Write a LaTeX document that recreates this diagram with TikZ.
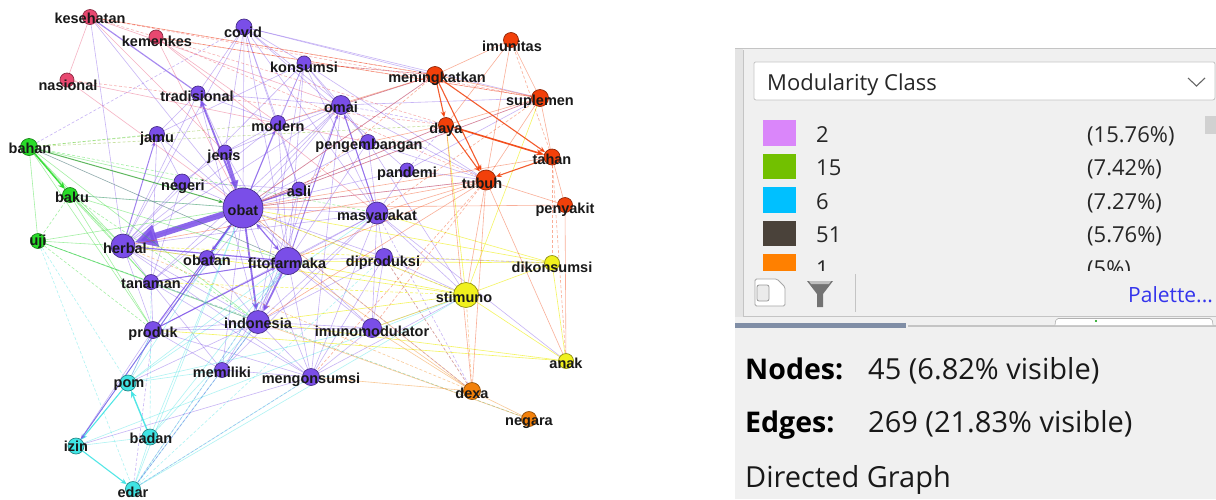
\documentclass[tikz,border=0pt]{standalone}
\usepackage{fontspec}
\setmainfont{Liberation Sans}
\newfontfamily\uifont{Open Sans}
\usetikzlibrary{arrows.meta}
\pgfdeclarelayer{bg}
\pgfdeclarelayer{edges}
\pgfsetlayers{bg,edges,main}

\definecolor{cpur}{RGB}{122,78,232}
\definecolor{cpink}{RGB}{232,72,112}
\definecolor{cgreen}{RGB}{40,220,40}
\definecolor{ccyan}{RGB}{64,228,228}
\definecolor{cyel}{RGB}{240,240,30}
\definecolor{corange}{RGB}{242,128,10}
\definecolor{cred}{RGB}{242,64,10}
\definecolor{panelbg}{RGB}{240,240,240}
\definecolor{stripbg}{RGB}{228,228,228}
\definecolor{bordc}{RGB}{196,196,196}
\definecolor{leg1}{RGB}{218,134,250}
\definecolor{leg2}{RGB}{114,192,0}
\definecolor{leg3}{RGB}{0,192,255}
\definecolor{leg4}{RGB}{74,66,58}
\definecolor{leg5}{RGB}{255,128,0}
\definecolor{thumb}{RGB}{128,142,166}
\definecolor{linkblue}{RGB}{52,52,236}

\tikzset{
  vtx/.style={circle, inner sep=0pt, minimum size=#1, line width=0.7pt},
  lbl/.style={font=\bfseries\fontsize{14.5}{15}\selectfont, text=black!90, inner sep=0pt},
  ed/.style={line width=0.6pt, opacity=0.42},
  edd/.style={ed, dash pattern=on 3pt off 2pt},
  tip/.style={-{Stealth[length=5pt,width=4pt]}},
  ui/.style={font=\uifont\fontsize{22}{24}\selectfont, inner sep=0pt, text=black!85},
  uib/.style={font=\uifont\fontsize{29}{31}\selectfont, inner sep=0pt, text=black!90},
  uibb/.style={font=\uifont\bfseries\fontsize{28.5}{31}\selectfont, inner sep=0pt, text=black},
}

\begin{document}
\begin{tikzpicture}[x=1pt,y=-1pt]
\useasboundingbox (0,0) rectangle (1216,499);
\begin{pgfonlayer}{bg}
  \fill[white] (0,0) rectangle (1216,499);
\end{pgfonlayer}

% ---------- vertices ----------
\foreach \n/\x/\y/\s/\c in {
  kesehatan/90/17/15/cpink, kemenkes/156/37/14/cpink, nasional/67/80/14/cpink,
  covid/244/27/16/cpur, konsumsi/304/63/14/cpur, tradisional/198/93/14/cpur,
  omai/341/105/19/cpur, modern/278/123/15/cpur, jamu/157/134/15/cpur,
  pengembangan/368/142/15/cpur, jenis/225/152/14/cpur, pandemi/407/170/14/cpur,
  negeri/182/182/16/cpur, asli/299/189/14/cpur, obat/243/208/40/cpur,
  masyarakat/377/213/22/cpur, herbal/123/246/24/cpur, obatan/207/258/15/cpur,
  fitofarmaka/288/261/27/cpur, diproduksi/384/257/17/cpur, tanaman/151/282/15/cpur,
  produk/153/330/17/cpur, indonesia/258/322/23/cpur, imunomodulator/372/328/19/cpur,
  memiliki/222/370/15/cpur, mengonsumsi/311/377/17/cpur,
  bahan/29/147/17/cgreen, baku/70/195/15/cgreen, uji/38/241/15/cgreen,
  stimuno/466/295/25/cyel, dikonsumsi/552/263/15/cyel, anak/566/361/15/cyel,
  pom/128/383/16/ccyan, badan/150/437/16/ccyan, izin/76/446/16/ccyan, edar/133/489/15/ccyan,
  dexa/472/391/17/corange, negara/529/419/15/corange,
  imunitas/511/40/15/cred, meningkatkan/435/75/17/cred, suplemen/540/98/17/cred,
  daya/446/125/15/cred, tahan/552/157/16/cred, tubuh/486/180/20/cred, penyakit/565/205/15/cred}
  \node[vtx=\s pt, fill=\c, draw=\c!60!black] (\n) at (\x,\y) {};

% ---------- labels ----------
\foreach \n/\x/\y in {
  kesehatan/90/18, kemenkes/157/41, nasional/68/85, covid/243/32, konsumsi/304/67,
  tradisional/197/96, omai/341/107, modern/278/126, jamu/157/139, pengembangan/369/146,
  jenis/224/157, pandemi/407/174, negeri/183/187, asli/299/191, obat/243/210,
  masyarakat/377/217, herbal/125/248, obatan/207/260, fitofarmaka/287/263,
  diproduksi/383/263, tanaman/151/284, produk/153/334, indonesia/258/323,
  imunomodulator/372/331, memiliki/222/372, mengonsumsi/311/380,
  bahan/30/148, baku/72/197, uji/38/242, stimuno/464/297, dikonsumsi/552/267,
  anak/566/363, pom/129/385, badan/151/438, izin/76/446, edar/133/492,
  dexa/472/393, negara/529/423, imunitas/512/46, meningkatkan/437/79,
  suplemen/540/102, daya/446/130, tahan/552/159, tubuh/482/183, penyakit/565/210}
  \node[lbl] (lab-\n) at (\x,\y) {\n};

% ---------- connectors ----------
\begin{pgfonlayer}{edges}
% purple cluster
\foreach \a/\b in {
  obat/asli, obat/omai, obat/konsumsi, obat/covid, obat/jamu, obat/negeri,
  obat/tanaman, obat/produk, obat/masyarakat, obat/pengembangan, obat/diproduksi,
  obat/mengonsumsi, obat/memiliki, obat/imunomodulator, obat/pandemi, obat/kesehatan,
  obat/baku, obat/izin, obat/tubuh, obat/meningkatkan, obat/suplemen, obat/daya,
  herbal/tanaman, herbal/produk, herbal/indonesia, herbal/omai, herbal/tradisional,
  herbal/modern, herbal/obatan, herbal/masyarakat, herbal/mengonsumsi, herbal/kesehatan,
  herbal/negeri, herbal/asli,
  fitofarmaka/modern, fitofarmaka/asli, fitofarmaka/tanaman, fitofarmaka/produk,
  fitofarmaka/masyarakat, fitofarmaka/pengembangan, fitofarmaka/imunomodulator,
  fitofarmaka/mengonsumsi, fitofarmaka/memiliki, fitofarmaka/diproduksi,
  fitofarmaka/konsumsi, fitofarmaka/covid, fitofarmaka/jenis, fitofarmaka/obatan,
  indonesia/produk, indonesia/tanaman, indonesia/memiliki, indonesia/mengonsumsi,
  indonesia/masyarakat, indonesia/omai, indonesia/konsumsi, indonesia/imunomodulator,
  indonesia/diproduksi, indonesia/pom, indonesia/obatan, indonesia/asli,
  omai/modern, omai/masyarakat, omai/mengonsumsi, omai/pengembangan, omai/jenis,
  omai/covid, omai/konsumsi, omai/produk, omai/tanaman, omai/tubuh, omai/suplemen,
  omai/meningkatkan,
  masyarakat/mengonsumsi, masyarakat/diproduksi, masyarakat/imunomodulator,
  masyarakat/pengembangan, masyarakat/konsumsi, masyarakat/memiliki, masyarakat/produk,
  masyarakat/stimuno, masyarakat/covid, masyarakat/anak,
  covid/konsumsi, covid/modern, covid/tradisional, covid/pandemi, covid/meningkatkan,
  covid/herbal, covid/jenis, covid/asli, covid/suplemen,
  konsumsi/modern, konsumsi/herbal, konsumsi/pengembangan, konsumsi/tubuh, konsumsi/jamu,
  tradisional/jenis, tradisional/jamu, tradisional/modern, tradisional/omai,
  tradisional/indonesia,
  mengonsumsi/produk, mengonsumsi/memiliki, mengonsumsi/stimuno, mengonsumsi/tanaman,
  mengonsumsi/imunomodulator, mengonsumsi/diproduksi, mengonsumsi/izin,
  memiliki/produk, memiliki/tanaman,
  imunomodulator/stimuno, imunomodulator/diproduksi, imunomodulator/produk,
  diproduksi/dikonsumsi, diproduksi/stimuno,
  pandemi/tubuh, pandemi/suplemen, pandemi/masyarakat,
  tanaman/produk, tanaman/jamu, tanaman/negeri, produk/pom, produk/izin,
  pengembangan/tubuh, pengembangan/stimuno,
  negeri/jenis, negeri/asli, modern/asli, jamu/negeri, jenis/modern}
  \draw[ed, draw=cpur] (\a) -- (\b);
\foreach \a/\b in {
  obat/dexa, diproduksi/dexa, masyarakat/dexa, memiliki/edar, indonesia/edar,
  fitofarmaka/edar, omai/daya, pandemi/daya, bahan/covid, obat/stimuno,
  konsumsi/meningkatkan, produk/edar, mengonsumsi/edar}
  \draw[edd, draw=cpur] (\a) -- (\b);
% emphasised purple connectors
\foreach \a/\b in {
  obat/modern, herbal/jamu, fitofarmaka/omai, produk/fitofarmaka, obat/asli,
  tanaman/fitofarmaka, produk/obat, masyarakat/omai}
  \draw[ed, draw=cpur, opacity=0.7, line width=1pt, tip] (\a) -- (\b);
\draw[draw=cpur, opacity=0.85, line width=6pt, -{Triangle[length=22pt,width=22pt]}] (obat) -- (herbal);
\draw[draw=cpur, opacity=0.8, line width=3pt, -{Triangle[length=8pt,width=8pt]}] (jenis) -- (obat);
\draw[draw=cpur, opacity=0.8, line width=1.8pt, -{Stealth[length=8pt,width=7pt]}] (obat) -- (tradisional);
\draw[draw=cpur, opacity=0.8, line width=1.8pt, -{Stealth[length=8pt,width=7pt]}] (obat) -- (indonesia);
\draw[draw=cpur, opacity=0.8, line width=1.8pt, -{Stealth[length=8pt,width=7pt]}] (fitofarmaka) -- (indonesia);
\draw[draw=cpur, opacity=0.8, line width=1.2pt, {Stealth[length=6pt,width=5pt]}-{Stealth[length=6pt,width=5pt]}] (obat) -- (fitofarmaka);
\draw[draw=cpur, opacity=0.8, line width=1.2pt, -{Stealth[length=6pt,width=5pt]}] (obat) -- (obatan);
\draw[draw=cpur, opacity=0.8, line width=1.2pt, -{Stealth[length=6pt,width=5pt]}] (fitofarmaka) -- (herbal);
\draw[draw=cpur, opacity=0.65, line width=1.2pt] (kesehatan) -- (tradisional);

% pink cluster
\foreach \a/\b in {
  kesehatan/nasional, kesehatan/jenis, kemenkes/obat, kemenkes/modern,
  kemenkes/masyarakat, nasional/obat, nasional/pengembangan, kesehatan/omai}
  \draw[ed, draw=cpink] (\a) -- (\b);
\foreach \a/\b in {
  kesehatan/meningkatkan, kesehatan/suplemen, kemenkes/suplemen, kemenkes/tubuh,
  nasional/daya, kesehatan/tahan}
  \draw[edd, draw=cpink!60!cred] (\a) -- (\b);

% green cluster
\foreach \a/\b in {
  bahan/herbal, bahan/uji, bahan/tanaman, bahan/produk, bahan/indonesia, bahan/negeri,
  baku/herbal, baku/produk, baku/obat, baku/tanaman, baku/fitofarmaka,
  uji/herbal, uji/obat, uji/tanaman, uji/indonesia}
  \draw[ed, draw=cgreen] (\a) -- (\b);
\foreach \a/\b in {baku/uji, bahan/masyarakat, baku/indonesia, uji/produk, bahan/jamu}
  \draw[edd, draw=cgreen] (\a) -- (\b);
\draw[ed, draw=cgreen!45!cpur!80!black, opacity=0.6] (bahan) -- (fitofarmaka);
\draw[ed, draw=cgreen!70!black, opacity=0.7, line width=1pt, tip] (bahan) -- (obat);
\draw[draw=cgreen, opacity=0.9, line width=1.4pt, -{Stealth[length=7pt,width=6pt]}] (bahan) -- (baku);
\draw[edd, draw=cgreen!50!ccyan!80!black] (uji) -- (negara);
\draw[edd, draw=cgreen!60!corange] (bahan) -- (daya);
\draw[edd, draw=cgreen!60!corange] (bahan) -- (modern);

% cyan cluster
\foreach \a/\b in {
  badan/izin, badan/edar, pom/produk, pom/obat, pom/fitofarmaka, badan/obat,
  badan/indonesia, badan/fitofarmaka, izin/obat, edar/obat, edar/indonesia,
  edar/mengonsumsi, edar/stimuno, edar/fitofarmaka, pom/memiliki,
  pom/imunomodulator, izin/stimuno, pom/masyarakat}
  \draw[ed, draw=ccyan] (\a) -- (\b);
\foreach \a/\b in {uji/edar, uji/pom, edar/diproduksi, badan/tanaman}
  \draw[edd, draw=ccyan] (\a) -- (\b);
\draw[draw=ccyan, opacity=0.9, line width=1.4pt, -{Stealth[length=7pt,width=6pt]}] (badan) -- (pom);
\draw[draw=ccyan, opacity=0.9, line width=1.1pt, -{Stealth[length=6pt,width=5pt]}] (pom) -- (izin);
\draw[draw=ccyan, opacity=0.9, line width=1.1pt, -{Stealth[length=6pt,width=5pt]}] (izin) -- (edar);
\draw[ed, draw=cpur, opacity=0.7, line width=0.9pt, tip] (obat) -- (izin);

% yellow cluster
\foreach \a/\b in {
  stimuno/dikonsumsi, stimuno/anak, stimuno/fitofarmaka, stimuno/indonesia,
  stimuno/herbal, stimuno/obat, stimuno/imunomodulator, stimuno/daya,
  stimuno/suplemen, dikonsumsi/anak, dikonsumsi/fitofarmaka, dikonsumsi/obat,
  dikonsumsi/masyarakat, anak/produk, anak/indonesia}
  \draw[ed, draw=cyel, opacity=0.7] (\a) -- (\b);
\foreach \a/\b in {stimuno/tanaman, dikonsumsi/herbal}
  \draw[edd, draw=cyel, opacity=0.7] (\a) -- (\b);

% orange cluster
\foreach \a/\b in {
  dexa/negara, dexa/imunomodulator, dexa/fitofarmaka, dexa/obat, dexa/mengonsumsi,
  negara/indonesia}
  \draw[ed, draw=corange] (\a) -- (\b);
\foreach \a/\b in {dexa/stimuno, dexa/diproduksi, dexa/herbal}
  \draw[edd, draw=corange] (\a) -- (\b);

% red cluster
\foreach \a/\b in {
  meningkatkan/suplemen, meningkatkan/imunitas, meningkatkan/omai, meningkatkan/obat,
  meningkatkan/konsumsi, meningkatkan/kesehatan, imunitas/tubuh, imunitas/suplemen,
  suplemen/tahan, suplemen/tubuh, suplemen/daya, tahan/penyakit, tubuh/penyakit,
  tubuh/stimuno, tubuh/anak, tubuh/dexa, tubuh/obat, tubuh/masyarakat, penyakit/obat,
  imunitas/daya, suplemen/obat, tahan/obat, daya/obat, daya/dexa, tubuh/herbal,
  tubuh/fitofarmaka, penyakit/anak, tubuh/indonesia, suplemen/kemenkes,
  meningkatkan/modern, daya/pengembangan}
  \draw[ed, draw=cred] (\a) -- (\b);
\foreach \a/\b in {
  tubuh/imunomodulator, tahan/anak, imunitas/tahan, tubuh/mengonsumsi,
  suplemen/masyarakat, meningkatkan/asli, tahan/dikonsumsi}
  \draw[edd, draw=cred] (\a) -- (\b);
\foreach \a/\b in {meningkatkan/daya, meningkatkan/tubuh, meningkatkan/tahan, daya/tubuh, tahan/tubuh}
  \draw[draw=cred, opacity=0.85, line width=1.1pt, -{Stealth[length=6pt,width=5pt]}] (\a) -- (\b);
\draw[draw=cred, opacity=0.9, line width=1.6pt, -{Stealth[length=8pt,width=6pt]}] (daya) -- (tahan);
\end{pgfonlayer}

% ---------- side panel ----------
\fill[panelbg] (735,48) rectangle (1216,499);
\fill[stripbg] (735,48) rectangle (743,317);
\draw[bordc, line width=1pt] (735,48.5) -- (1216,48.5);
\draw[bordc, line width=1pt] (743.5,50) -- (743.5,316) -- (1216,316);

\node[draw=bordc, fill=white, rounded corners=2pt, minimum width=461pt, minimum height=38pt,
      inner sep=0pt, anchor=north west, line width=0.8pt] (dropbox) at (753.5,61.5) {};
\node[ui, anchor=base west] (droptxt) at (767,90) {Modularity Class};
\draw[black!60, line width=1.1pt] (1188,78) -- (1196.5,86) -- (1205,78);

\begin{scope}
  \clip (750,110) rectangle (1216,270.5);
  \foreach \i/\c/\v/\p in {0/leg1/2/15.76, 1/leg2/15/7.42, 2/leg3/6/7.27, 3/leg4/51/5.76, 4/leg5/1/5}{
    \fill[\c] (763,120+33.6*\i) rectangle (796,145.5+33.6*\i);
    \node[ui, anchor=base west] (cls-\i) at (816,142+33.6*\i) {\v};
    \node[ui, anchor=base west] (pct-\i) at (1087,142+33.6*\i) {(\p\%)};
  }
\end{scope}
\fill[black!18] (1205,116) rectangle (1216,134);

% tool icons and palette link
\draw[black!35, fill=white, line width=0.8pt, rounded corners=1.5pt]
  (755,279) -- (777,279) -- (785,287) -- (785,306) -- (755,306) -- cycle;
\draw[black!40, fill=black!8, line width=0.8pt, rounded corners=2pt] (757,285) rectangle (769,301);
\fill[black!55] (807,281) -- (833,281) -- (823,294) -- (823,307) -- (817,307) -- (817,294) -- cycle;
\fill[black!25] (809,281) -- (831,281) -- (829,284) -- (811,284) -- cycle;
\draw[bordc, line width=1pt] (855,274) -- (855,312);
\node[ui, font=\uifont\fontsize{21}{23}\selectfont, text=linkblue, anchor=base west] (palette) at (1128,302) {Palette...};

% scroll strip
\fill[thumb] (735,323) rectangle (906,327.5);
\fill[bordc] (908,324.5) rectangle (1216,327);
\draw[black!30, fill=white, rounded corners=2pt, line width=0.6pt] (1055,325) -- (1056,318.5) -- (1212,318.5) -- (1213,325);
\fill[green!60!black] (1096,321) circle (1.2pt);

% statistics
\node[uibb, anchor=base west] (nlab) at (745,379) {Nodes:};
\node[uib, anchor=base west] (nval) at (868,379) {45 (6.82\% visible)};
\node[uibb, anchor=base west] (elab) at (745,432) {Edges:};
\node[uib, anchor=base west] (eval) at (868,432) {269 (21.83\% visible)};
\node[uib, anchor=base west] (gtype) at (745,487) {Directed Graph};
\end{tikzpicture}
\end{document}
